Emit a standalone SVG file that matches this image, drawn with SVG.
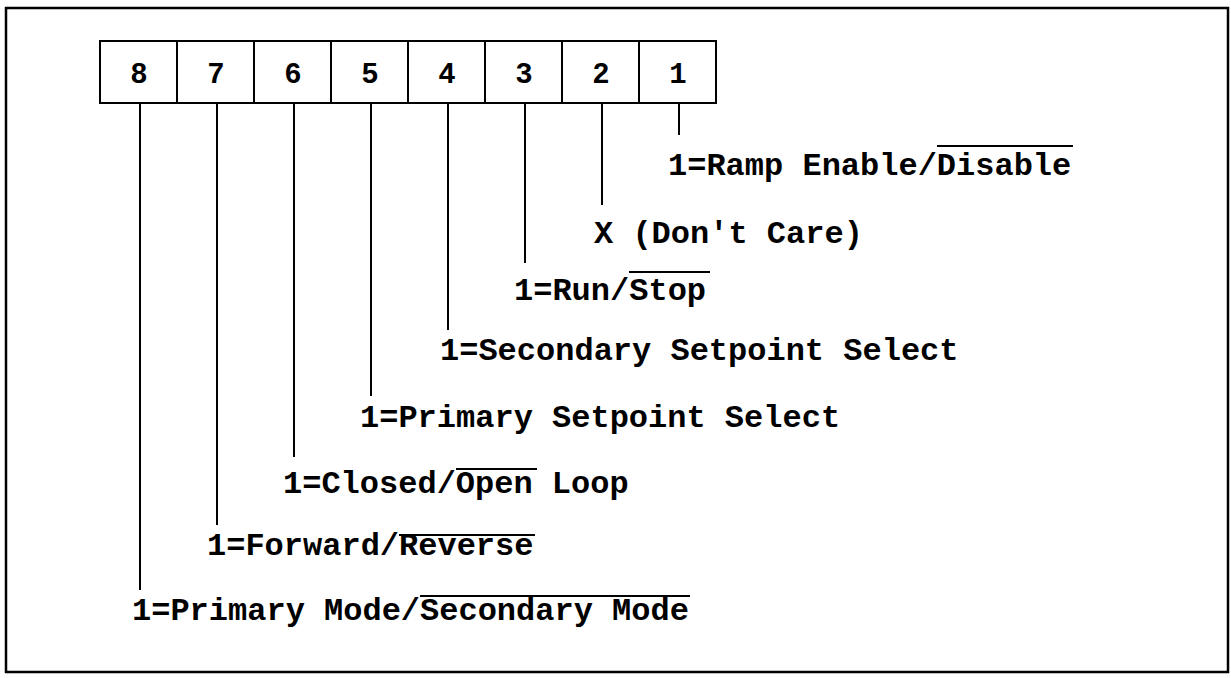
<svg xmlns="http://www.w3.org/2000/svg" width="1231" height="678" viewBox="0 0 1231 678">
<style>
.frame{fill:none;stroke:#000;stroke-width:2.5}
.box{fill:#fff;stroke:#000;stroke-width:2}
.num{font-family:"Liberation Mono","Courier New",monospace;font-weight:bold;font-size:29px;text-anchor:middle;fill:#000}
.lbl{font-family:"Liberation Mono","Courier New",monospace;font-weight:bold;font-size:32px;fill:#000}
.con line{stroke:#000;stroke-width:2}
.ov{stroke:#000;stroke-width:2}
</style>
<rect class="frame" x="6" y="8" width="1222" height="664"/>
<g id="bits">
<g id="bit8"><rect class="box" x="100" y="41" width="77" height="62"/><text class="num" x="139" y="83">8</text></g>
<g id="bit7"><rect class="box" x="177" y="41" width="77" height="62"/><text class="num" x="216" y="83">7</text></g>
<g id="bit6"><rect class="box" x="254" y="41" width="77" height="62"/><text class="num" x="293" y="83">6</text></g>
<g id="bit5"><rect class="box" x="331" y="41" width="77" height="62"/><text class="num" x="370" y="83">5</text></g>
<g id="bit4"><rect class="box" x="408" y="41" width="77" height="62"/><text class="num" x="447" y="83">4</text></g>
<g id="bit3"><rect class="box" x="485" y="41" width="77" height="62"/><text class="num" x="524" y="83">3</text></g>
<g id="bit2"><rect class="box" x="562" y="41" width="77" height="62"/><text class="num" x="601" y="83">2</text></g>
<g id="bit1"><rect class="box" x="639" y="41" width="77" height="62"/><text class="num" x="678" y="83">1</text></g>
</g>
<g id="connectors" class="con">
<line x1="679" y1="103" x2="679" y2="135"/>
<line x1="602" y1="103" x2="602" y2="205"/>
<line x1="525" y1="103" x2="525" y2="263"/>
<line x1="448" y1="103" x2="448" y2="330"/>
<line x1="371" y1="103" x2="371" y2="396"/>
<line x1="294" y1="103" x2="294" y2="457"/>
<line x1="217" y1="103" x2="217" y2="525"/>
<line x1="140" y1="103" x2="140" y2="590"/>
</g>
<g id="label1"><text class="lbl" x="668" y="175">1=Ramp Enable/Disable</text><line class="ov" x1="937" y1="146" x2="1073" y2="146"/></g>
<g id="label2"><text class="lbl" x="594" y="243">X (Don't Care)</text></g>
<g id="label3"><text class="lbl" x="514" y="300">1=Run/Stop</text><line class="ov" x1="629" y1="272" x2="710" y2="272"/></g>
<g id="label4"><text class="lbl" x="440" y="360">1=Secondary Setpoint Select</text></g>
<g id="label5"><text class="lbl" x="360" y="427">1=Primary Setpoint Select</text></g>
<g id="label6"><text class="lbl" x="283" y="493">1=Closed/Open Loop</text><line class="ov" x1="456" y1="469" x2="537" y2="469"/></g>
<g id="label7"><text class="lbl" x="207" y="555">1=Forward/Reverse</text><line class="ov" x1="399" y1="535" x2="535" y2="535"/></g>
<g id="label8"><text class="lbl" x="132" y="620">1=Primary Mode/Secondary Mode</text><line class="ov" x1="420" y1="596" x2="690" y2="596"/></g>
</svg>
